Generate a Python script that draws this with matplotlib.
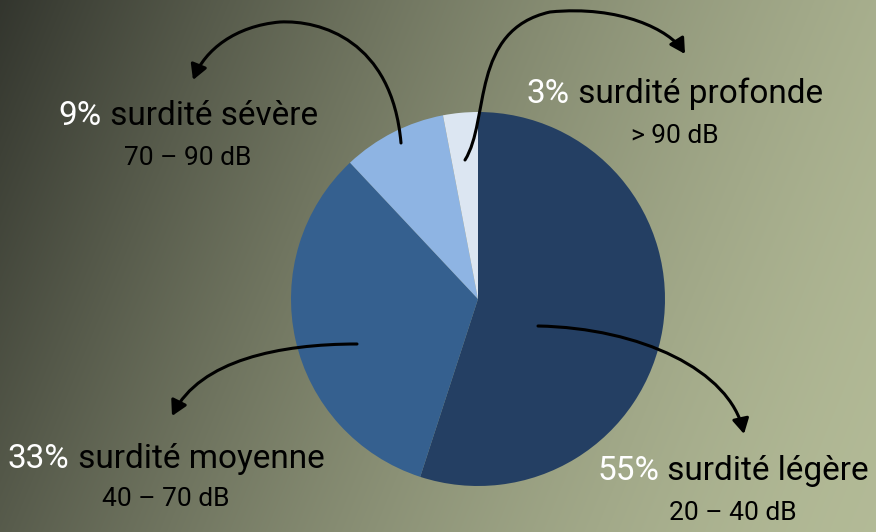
import numpy as np
import matplotlib
matplotlib.use("Agg")
import matplotlib.pyplot as plt
from matplotlib.path import Path
from matplotlib.patches import FancyArrowPatch

# data
categories = ["surdité légère", "surdité moyenne", "surdité sévère", "surdité profonde"]
values = [55, 33, 9, 3]
ranges = ["20 – 40 dB", "40 – 70 dB", "70 – 90 dB", "> 90 dB"]
colors = ["#243F63", "#35608F", "#8EB4E3", "#DCE6F2"]

W, H = 876, 532
FONT = ["Roboto", "DejaVu Sans"]

fig = plt.figure(figsize=(W / 100, H / 100), dpi=100)
ax = fig.add_axes([0, 0, 1, 1])

# background gradient (dark left -> light olive bottom right)
xx, yy = np.meshgrid(np.linspace(0, 1, W), np.linspace(0, 1, H))
s = np.clip(0.8 * xx + 0.2 * yy, 0, 1)
f = 1 - (1 - s) ** 1.5
dark = np.array([0.20, 0.21, 0.18])
light = np.array([0.70, 0.73, 0.59])
bg = dark + (light - dark) * f[..., None]
ax.imshow(bg, extent=[0, W, 0, H], origin="upper", zorder=0)

# pie
cx, cy, r = 478, H - 299, 187
ax.pie(values, colors=colors, startangle=90, counterclock=False,
       center=(cx, cy), radius=r, wedgeprops=dict(linewidth=0), frame=True)
ax.set_xlim(0, W)
ax.set_ylim(0, H)
ax.set_aspect("equal")
ax.axis("off")


def curve(pts):
    v = [(x, H - y) for x, y in pts]
    codes = [Path.MOVETO] + [Path.CURVE4] * (len(v) - 1)
    p = FancyArrowPatch(path=Path(v, codes), arrowstyle="-|>,head_length=9,head_width=5",
                        color="black", lw=2.2, zorder=5)
    ax.add_patch(p)


# arrows (pixel coords, y down)
curve([(401, 143), (392, 40), (320, 20), (280, 22), (235, 26), (205, 50), (193, 80)])
curve([(465, 160), (490, 120), (470, 30), (550, 12), (620, 5), (670, 30), (685, 54)])
curve([(357, 344), (280, 344), (200, 360), (172, 416)])
curve([(538, 326), (640, 328), (730, 370), (744, 434)])

# labels
renderer = fig.canvas.get_renderer()


def label(pct, name, rng, x, y1, y2, fs=24, fs2=19):
    t1 = ax.text(0, H - y1, pct, color="white", fontsize=fs, family=FONT,
                 ha="left", va="center", zorder=6)
    t2 = ax.text(0, H - y1, " " + name, color="black", fontsize=fs, family=FONT,
                 ha="left", va="center", zorder=6)
    w1 = t1.get_window_extent(renderer).width
    w2 = t2.get_window_extent(renderer).width
    x0 = x - (w1 + w2) / 2
    t1.set_x(x0)
    t2.set_x(x0 + w1)
    ax.text(x, H - y2, rng, color="black", fontsize=fs2, family=FONT,
            ha="center", va="center", zorder=6)


label(f"{values[2]}%", categories[2], ranges[2], 188, 116, 158)
label(f"{values[3]}%", categories[3], ranges[3], 675, 94, 136)
label(f"{values[1]}%", categories[1], ranges[1], 166, 459, 499)
label(f"{values[0]}%", categories[0], ranges[0], 733, 471, 513)

fig.savefig("out.png", dpi=100)
